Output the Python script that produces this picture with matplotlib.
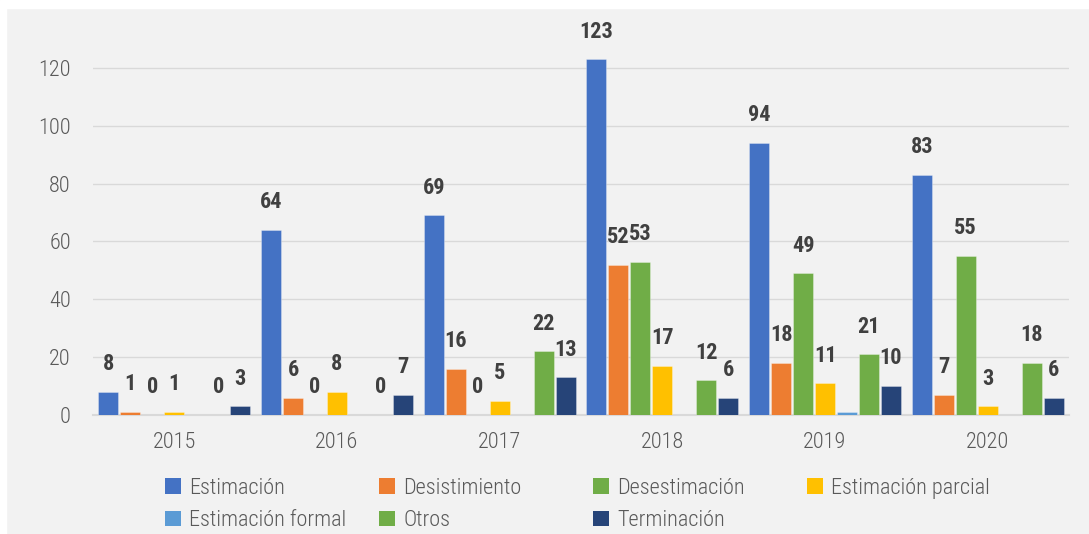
import numpy as np
import matplotlib
matplotlib.use("Agg")
import matplotlib.pyplot as plt
from matplotlib.patches import Patch, Rectangle
from matplotlib import font_manager

# pick a narrow font if one is installed
names = {f.name for f in font_manager.fontManager.ttflist}
narrow = None
for cand in ['Liberation Sans Narrow', 'DejaVu Sans Condensed', 'Roboto Condensed']:
    if cand in names:
        narrow = cand
        break
if narrow:
    plt.rcParams['font.family'] = [narrow, 'DejaVu Sans']
    FS = 16
else:
    plt.rcParams['font.family'] = ['Roboto', 'DejaVu Sans']
    FS = 13.5

years = ['2015', '2016', '2017', '2018', '2019', '2020']
series = ['Estimación', 'Desistimiento', 'Desestimación', 'Estimación parcial',
          'Estimación formal', 'Otros', 'Terminación']
estimacion = [8, 64, 69, 123, 94, 83]
desistimiento = [1, 6, 16, 52, 18, 7]
desestimacion = [0, 0, 0, 53, 49, 55]
estimacion_parcial = [1, 8, 5, 17, 11, 3]
estimacion_formal = [0, 0, 0, 0, 1, 0]
otros = [0, 0, 22, 12, 21, 18]
terminacion = [3, 7, 13, 6, 10, 6]
values = [estimacion, desistimiento, desestimacion, estimacion_parcial,
          estimacion_formal, otros, terminacion]
colors = ['#4472C4', '#ED7D31', '#70AD47', '#FFC000', '#5B9BD5', '#70AD47', '#264478']
show_labels = [True, True, True, True, False, True, True]

W, H = 1089, 534
fig = plt.figure(figsize=(W / 100, H / 100), dpi=100, facecolor='#F2F2F2')
# white strips on top and left, as in the original crop
fig.patches.append(Rectangle((0, 1 - 8 / H), 1, 8 / H, transform=fig.transFigure,
                             color='white', zorder=-10))
fig.patches.append(Rectangle((0, 0), 6 / W, 1, transform=fig.transFigure,
                             color='white', zorder=-10))

ax = fig.add_axes([93 / W, 1 - 415 / H, (1069 - 93) / W, (415 - 10) / H])
ax.set_facecolor('none')

x = np.arange(len(years))
slot = 22 / 162.67
bw = slot * 20 / 22
for i, (name, vals, c) in enumerate(zip(series, values, colors)):
    pos = x + (i - 3) * slot
    bars = ax.bar(pos, vals, width=bw, color=c, edgecolor=(1, 1, 1, 0.35),
                  linewidth=0.6, zorder=3)
    if show_labels[i]:
        for b, v in zip(bars, vals):
            ax.annotate(str(v), (b.get_x() + b.get_width() / 2, v),
                        xytext=(0, 12), textcoords='offset points',
                        ha='center', va='bottom', fontsize=FS,
                        fontweight='bold', color='#404040')

ax.set_xlim(-0.5, len(years) - 0.5)
ax.set_ylim(0, 140)
ax.set_yticks(range(0, 121, 20))
ax.set_xticks(x)
ax.set_xticklabels(years)
ax.grid(axis='y', color='#D9D9D9', linewidth=1.0, zorder=0)
for s in ['top', 'right', 'left']:
    ax.spines[s].set_visible(False)
ax.spines['bottom'].set_color('#D9D9D9')
ax.spines['bottom'].set_linewidth(1.5)
ax.tick_params(axis='y', length=0, pad=16, labelsize=FS, labelcolor='#595959')
ax.tick_params(axis='x', length=0, pad=12, labelsize=FS, labelcolor='#595959')
for t in ax.get_xticklabels() + ax.get_yticklabels():
    t.set_fontweight('light')

# legend: 4 equally spaced columns, filled row by row
cols = [[0, 4], [1, 5], [2, 6], [3]]
col_x = [165, 379, 593, 807]
for cx, idx in zip(col_x, cols):
    handles = [Patch(facecolor=colors[k], edgecolor='none') for k in idx]
    labels = [series[k] for k in idx]
    leg = fig.legend(handles, labels, loc='upper left',
                     bbox_to_anchor=(cx / W, 1 - 478 / H),
                     frameon=False, fontsize=FS, labelcolor='#595959',
                     handlelength=0.7, handleheight=0.7, handletextpad=0.4,
                     labelspacing=0.5, borderaxespad=0, borderpad=0)
    for t in leg.get_texts():
        t.set_fontweight('light')

fig.savefig('out.png', dpi=100, facecolor=fig.get_facecolor())
